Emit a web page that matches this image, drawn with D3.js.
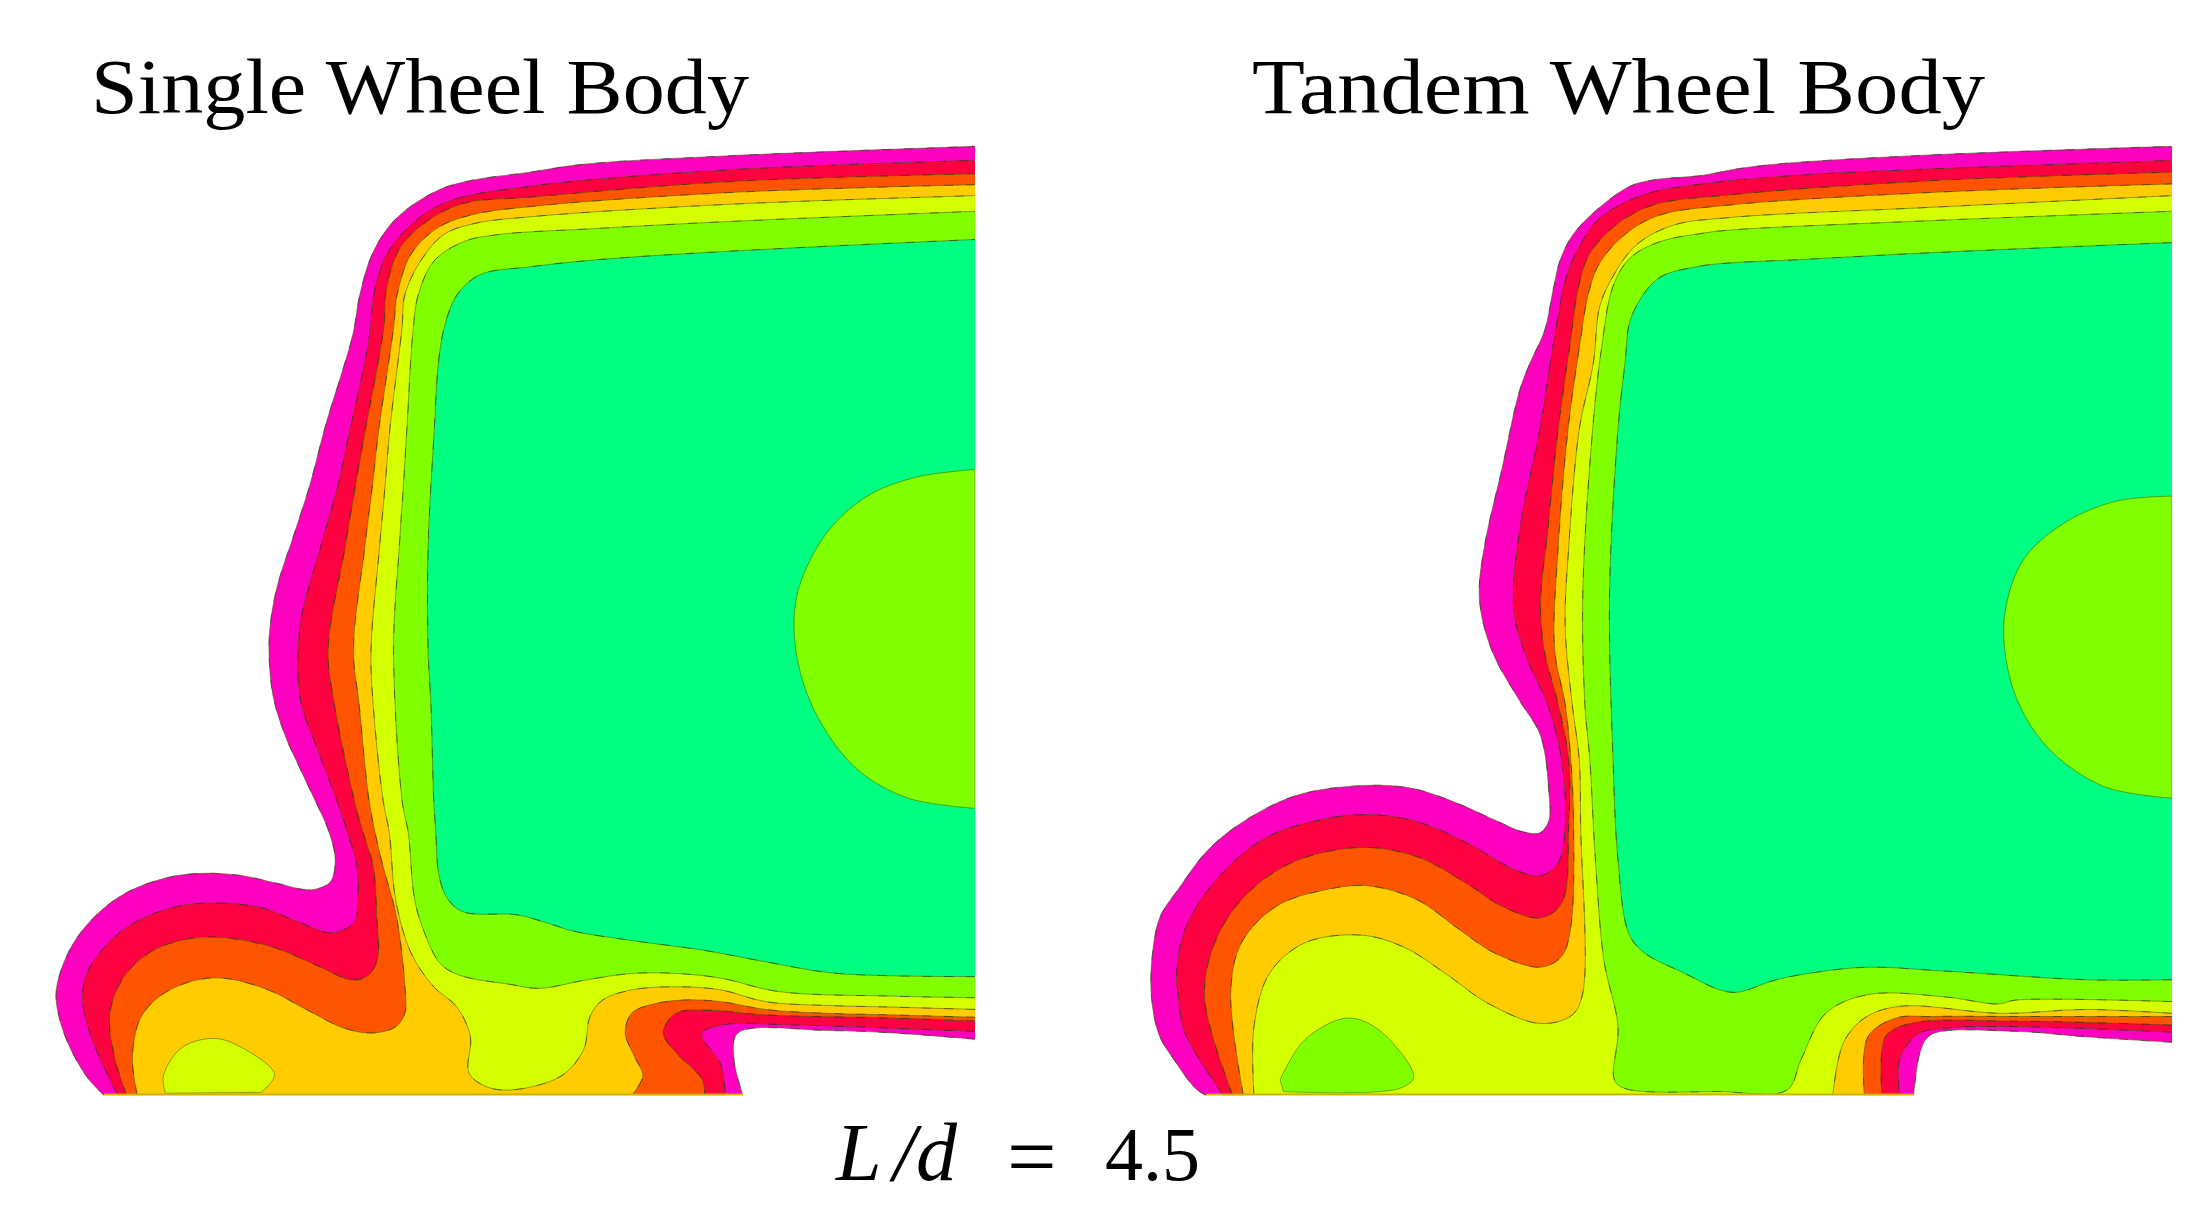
<!DOCTYPE html>
<html>
<head>
<meta charset="utf-8">
<script src="https://cdnjs.cloudflare.com/ajax/libs/d3/7.8.5/d3.min.js"></script>
<style>
  html, body { margin: 0; padding: 0; background: #fff; overflow: hidden; }
</style>
</head>
<body>
<svg id="chart" width="2208" height="1227"></svg>
<script>
// contour levels, outermost first
const levelColors = ["#ff00c0", "#ff0040", "#ff5500", "#ffcc00", "#d4ff00", "#80ff00", "#00ff80"];
const titles = ["Single Wheel Body", "Tandem Wheel Body"];
const formulaParts = ["L", "/", "d", "=", "4.5"];
const wallY = 1400;
const edgeX = [1385, 1517];

// Single wheel body: each boundary is [x, y]
const singleMagentaUpper = [[148,1400],[125,1378],[100,1340],[84,1300],[80,1265],[100,1212],[136,1170],[181,1140],[240,1121],[290,1116],[344,1119],[390,1128],[442,1137],[469,1127],[476,1098],[466,1060],[446,1020],[425,980],[405,940],[388,890],[382,830],[385,790],[395,745],[415,690],[440,620],[462,545],[501,428],[511,377],[530,322],[563,279],[620,244],[667,231],[753,220],[828,210],[1037,199],[1385,187]];
const singleMagentaLower = [[1385,1328],[1268,1320],[1178,1317],[1048,1320],[1042,1350],[1055,1400]];
const singleRedUpper = [[168,1400],[136,1340],[118,1285],[122,1247],[154,1205],[195,1177],[254,1158],[308,1154],[371,1160],[426,1179],[471,1192],[503,1179],[508,1150],[507,1107],[494,1065],[478,1022],[450,955],[428,900],[423,850],[428,790],[455,700],[480,620],[497,549],[523,440],[533,368],[549,326],[583,288],[635,258],[753,238],[1037,217],[1385,205]];
const singleRedLower = [[1385,1318],[1268,1314],[1132,1310],[1024,1310],[997,1321],[1024,1361],[1030,1400]];
const singleOrangeUpper = [[180,1400],[163,1352],[156,1295],[177,1247],[217,1215],[272,1199],[326,1199],[390,1211],[453,1235],[498,1252],[521,1248],[536,1226],[535,1171],[530,1107],[516,1065],[503,1022],[475,900],[466,830],[490,700],[505,620],[519,549],[545,419],[549,368],[568,317],[606,283],[658,260],[753,252],[1037,232],[1385,222]];
const singleOrangeLower = [[1385,1305],[1268,1301],[1087,1297],[1006,1291],[960,1295],[942,1320],[960,1345],[997,1379],[1001,1400]];
const singleAmberUpper = [[195,1400],[188,1352],[199,1302],[227,1273],[272,1254],[317,1250],[381,1265],[435,1290],[489,1314],[530,1320],[562,1312],[575,1295],[575,1260],[563,1171],[544,1107],[533,1065],[524,1022],[510,900],[502,830],[518,700],[529,620],[538,549],[559,419],[564,377],[583,326],[620,292],[668,275],[753,264],[1037,246],[1385,236]];
const singleAmberLower = [[1385,1300],[1268,1297],[1178,1295],[1087,1290],[1024,1280],[969,1278],[924,1284],[897,1295],[888,1320],[901,1350],[913,1375],[897,1400]];
const singleLime = [[1385,1290],[1268,1287],[1178,1285],[1087,1280],[1024,1265],[960,1261],[897,1265],[856,1278],[838,1299],[829,1341],[797,1375],[725,1393],[689,1388],[666,1371],[668,1324],[648,1286],[616,1261],[584,1218],[562,1150],[553,1065],[544,1022],[530,900],[527,830],[539,700],[547,620],[554,546],[571,419],[575,377],[597,334],[630,300],[672,286],[753,277],[1037,261],[1385,250]];
const singleGreen = [[1385,1275],[1268,1273],[1105,1267],[1024,1250],[960,1244],[897,1244],[834,1252],[766,1263],[725,1258],[652,1246],[625,1231],[603,1192],[589,1150],[580,1065],[571,1022],[559,830],[567,700],[573,620],[578,546],[587,419],[594,377],[616,334],[658,309],[706,300],[847,292],[1037,283],[1385,270]];
const singleSpring = [[1385,1248],[1268,1247],[1178,1243],[1087,1229],[997,1214],[906,1203],[815,1190],[779,1180],[734,1169],[657,1165],[634,1146],[623,1116],[619,1065],[616,1022],[612,900],[608,830],[608,700],[617,546],[623,461],[632,415],[649,377],[682,351],[753,341],[847,332],[1037,321],[1385,306]];
const singleCore = [[1385,600],[1300,610],[1230,635],[1175,680],[1135,750],[1128,805],[1140,870],[1170,930],[1220,985],[1290,1020],[1385,1033]];
const singleIsland = [[235,1397],[232,1375],[258,1339],[304,1327],[344,1339],[390,1373],[371,1396]];

// Tandem wheel body
const tandemMagentaUpper = [[145,1400],[130,1391],[100,1355],[78,1322],[67,1269],[70,1210],[80,1171],[105,1137],[150,1084],[205,1046],[275,1016],[365,1004],[435,1007],[495,1024],[555,1048],[595,1063],[620,1064],[632,1048],[632,1014],[620,940],[590,895],[555,840],[537,790],[533,750],[542,690],[565,600],[590,500],[605,464],[626,422],[638,370],[648,332],[666,300],[700,268],[747,238],[780,230],[851,224],[898,216],[964,209],[1173,198],[1517,187]];
const tandemMagentaLower = [[1517,1332],[1395,1325],[1295,1318],[1175,1322],[1160,1342],[1150,1400]];
const tandemRedUpper = [[170,1400],[115,1320],[105,1269],[103,1248],[115,1188],[155,1129],[225,1073],[305,1048],[375,1041],[445,1050],[515,1077],[585,1112],[620,1119],[645,1103],[655,1056],[650,971],[630,900],[600,840],[582,780],[590,680],[619,549],[640,430],[657,353],[674,317],[704,279],[766,249],[841,236],[983,224],[1173,216],[1517,205]];
const tandemRedLower = [[1517,1319],[1295,1312],[1195,1314],[1155,1322],[1130,1354],[1130,1400]];
const tandemOrangeUpper = [[183,1400],[143,1278],[155,1210],[195,1150],[265,1103],[365,1083],[445,1095],[515,1129],[565,1158],[620,1173],[650,1154],[660,1056],[660,971],[645,900],[625,830],[620,770],[630,680],[645,549],[662,439],[674,366],[690,324],[728,287],[780,262],[889,249],[1173,231],[1517,220]];
const tandemOrangeLower = [[1517,1310],[1295,1305],[1145,1308],[1110,1325],[1105,1400]];
const tandemAmberUpper = [[198,1400],[180,1269],[195,1205],[245,1158],[315,1137],[375,1132],[445,1150],[505,1188],[555,1218],[620,1236],[650,1222],[663,1184],[667,1056],[663,971],[655,900],[640,830],[645,700],[659,549],[676,439],[688,375],[704,336],[742,298],[789,275],[889,262],[1173,246],[1517,235]];
const tandemAmberLower = [[1517,1299],[1295,1299],[1175,1299],[1125,1301],[1085,1325],[1080,1400]];
const tandemLimeUpper = [[213,1400],[213,1312],[235,1244],[285,1205],[365,1195],[425,1210],[485,1244],[545,1282],[620,1308],[665,1297],[680,1269],[677,1056],[675,971],[665,900],[655,800],[660,700],[675,549],[695,464],[704,392],[723,353],[756,313],[808,288],[889,278],[1173,265],[1517,250]];
const tandemLimeLower = [[1517,1295],[1395,1290],[1275,1295],[1130,1286],[1080,1301],[1050,1333],[1035,1400]];
const tandemGreen = [[1517,1280],[1295,1278],[1270,1283],[1195,1274],[1085,1271],[1025,1295],[990,1354],[970,1393],[875,1395],[740,1391],[725,1380],[730,1312],[710,1227],[698,1099],[690,971],[683,900],[680,760],[694,549],[707,443],[723,366],[747,330],[789,309],[851,298],[889,294],[1173,282],[1517,270]];
const tandemSpring = [[1517,1252],[1395,1252],[1195,1241],[1085,1236],[1015,1242],[955,1252],[900,1268],[875,1265],[825,1244],[765,1216],[745,1192],[730,1099],[723,971],[718,760],[730,549],[740,464],[749,405],[787,356],[841,341],[889,336],[983,332],[1173,323],[1517,310]];
const tandemCore = [[1517,634],[1440,640],[1370,665],[1310,710],[1285,760],[1278,815],[1295,890],[1340,955],[1420,1005],[1517,1020]];
const tandemIsland = [[250,1380],[285,1329],[345,1301],[390,1316],[440,1376],[425,1389],[375,1396],[255,1395]];

const singleLevels = [
    [singleMagentaUpper, singleMagentaLower],
    [singleRedUpper, singleRedLower],
    [singleOrangeUpper, singleOrangeLower],
    [singleAmberUpper, singleAmberLower],
    [singleLime, []],
    [singleGreen, []],
    [singleSpring, []]
];
const tandemLevels = [
    [tandemMagentaUpper, tandemMagentaLower],
    [tandemRedUpper, tandemRedLower],
    [tandemOrangeUpper, tandemOrangeLower],
    [tandemAmberUpper, tandemAmberLower],
    [tandemLimeUpper, tandemLimeLower],
    [tandemGreen, []],
    [tandemSpring, []]
];

const svg = d3.select("#chart");
const y = d3.scaleLinear().domain([0, 1568]).range([0, 1227]);
const contour = "rgba(70,90,0,0.55)";

// reference is a slightly soft raster
svg.append("filter").attr("id", "soft")
    .append("feGaussianBlur").attr("stdDeviation", 0.7);

function strokeBoundary(g, d) {
    g.append("path").attr("d", d)
        .attr("fill", "none")
        .attr("stroke", contour)
        .attr("stroke-width", 1);
    g.append("path").attr("d", d)
        .attr("fill", "none")
        .attr("stroke", "#222")
        .attr("stroke-opacity", 0.5)
        .attr("stroke-width", 1)
        .attr("stroke-dasharray", "9 13");
}

function drawPanel(index, levels, core, island, islandColor) {
    const x = d3.scaleLinear().domain([0, 1568]).range([index * 1104, index * 1104 + 1104]);
    const line = d3.line()
        .x(function (d) { return x(d[0]); })
        .y(function (d) { return y(d[1]); })
        .curve(d3.curveCatmullRom.alpha(0.5));

    svg.append("clipPath").attr("id", "panel" + index)
        .append("rect")
        .attr("x", x(0))
        .attr("y", y(0))
        .attr("width", x(edgeX[index]) - x(0))
        .attr("height", y(wallY) - y(0));
    const g = svg.append("g").attr("clip-path", "url(#panel" + index + ")")
        .append("g").attr("filter", "url(#soft)");

    levels.forEach(function (level, i) {
        const upper = line(level[0]);
        const lower = level[1].length ? line(level[1]) : "";
        g.append("path")
            .attr("d", upper + (lower ? "L" + lower.slice(1) : "") + "Z")
            .attr("fill", levelColors[i]);
        strokeBoundary(g, upper);
        if (lower) strokeBoundary(g, lower);
    });

    // closed shapes sitting on the right edge or on the wall
    [[core, levelColors[5]], [island, islandColor]].forEach(function (shape) {
        g.append("path")
            .attr("d", line(shape[0]) + "Z")
            .attr("fill", shape[1])
            .attr("stroke", contour)
            .attr("stroke-width", 1);
    });

    // wall line
    g.append("line")
        .attr("x1", x(levels[0][0][0][0]))
        .attr("x2", x(levels[0][1][levels[0][1].length - 1][0]))
        .attr("y1", y(wallY) - 1)
        .attr("y2", y(wallY) - 1)
        .attr("stroke", "#c8b400")
        .attr("stroke-width", 2);
}

drawPanel(0, singleLevels, singleCore, singleIsland, levelColors[4]);
drawPanel(1, tandemLevels, tandemCore, tandemIsland, levelColors[5]);

const serif = "'Liberation Serif', 'DejaVu Serif', serif";
svg.selectAll("text.title").data(titles).join("text")
    .attr("class", "title")
    .attr("x", function (d, i) { return i === 0 ? 91 : 1252; })
    .attr("y", 113)
    .attr("font-family", serif)
    .attr("font-size", 78)
    .attr("textLength", function (d, i) { return i === 0 ? 658 : 733; })
    .attr("lengthAdjust", "spacingAndGlyphs")
    .text(function (d) { return d; });

const formulaX = [836, 893, 916, 1007, 1105];
svg.selectAll("text.formula").data(formulaParts).join("text")
    .attr("class", "formula")
    .attr("x", function (d, i) { return formulaX[i]; })
    .attr("y", function (d) { return d === "=" ? 1186 : 1180; })
    .attr("font-family", serif)
    .attr("font-style", function (d, i) { return i < 3 ? "italic" : "normal"; })
    .attr("font-size", function (d, i) { return i < 3 ? 82 : (d === "=" ? 88 : 76); })
    .text(function (d) { return d; });
</script>
</body>
</html>
